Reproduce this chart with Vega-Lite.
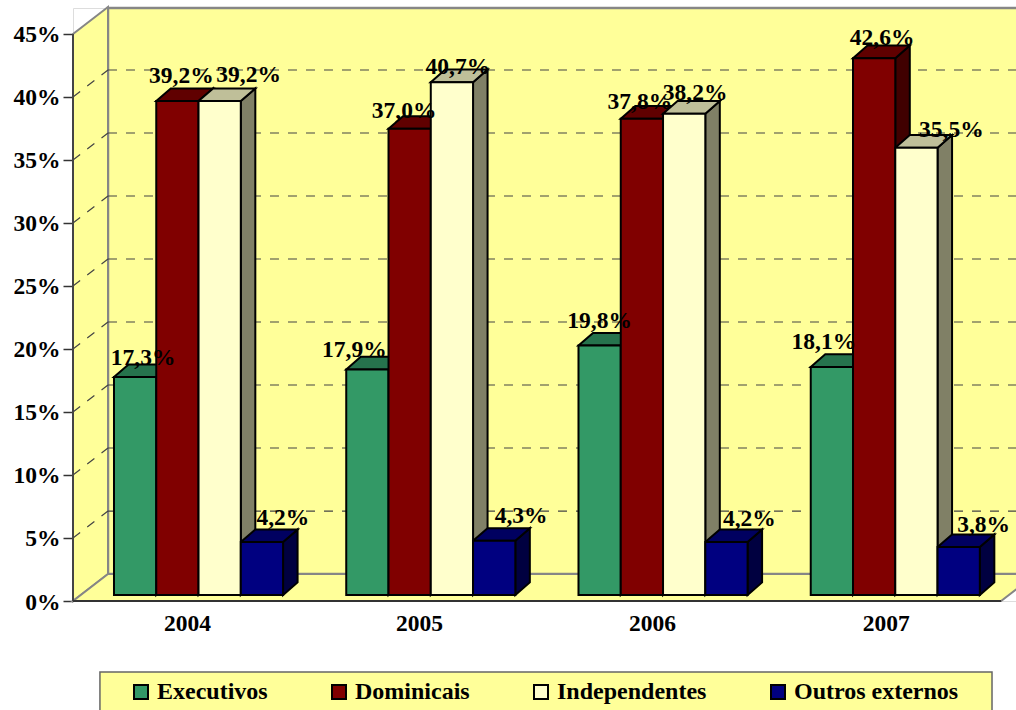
{
"$schema":"https://vega.github.io/schema/vega-lite/v6.json",
"width":943,"height":593,
"autosize":{"type":"none"},
"padding":{"left":73,"top":8,"right":0,"bottom":109},
"background":"white",
"datasets":{
"bars":[
{"year":"2004","series":"Executivos","value":17.3},{"year":"2004","series":"Dominicais","value":39.2},{"year":"2004","series":"Independentes","value":39.2},{"year":"2004","series":"Outros externos","value":4.2},
{"year":"2005","series":"Executivos","value":17.9},{"year":"2005","series":"Dominicais","value":37.0},{"year":"2005","series":"Independentes","value":40.7},{"year":"2005","series":"Outros externos","value":4.3},
{"year":"2006","series":"Executivos","value":19.8},{"year":"2006","series":"Dominicais","value":37.8},{"year":"2006","series":"Independentes","value":38.2},{"year":"2006","series":"Outros externos","value":4.2},
{"year":"2007","series":"Executivos","value":18.1},{"year":"2007","series":"Dominicais","value":42.6},{"year":"2007","series":"Independentes","value":35.5},{"year":"2007","series":"Outros externos","value":3.8}],
"depths":[{"d":0},{"d":1}],
"wall":[{"wall":"back"}],
"ticks":[{"tick":5},{"tick":10},{"tick":15},{"tick":20},{"tick":25},{"tick":30},{"tick":35},{"tick":40}]
},
"layer":[
{"data":{"name":"wall"},
 "mark":{"type":"rect","fill":"#FFFF99","stroke":"#868686","strokeWidth":2.5},
 "encoding":{
  "x":{"datum":0.1507,"type":"quantitative","scale":{"domain":[0,4.0603],"nice":false,"zero":false},
   "axis":{"title":null,"values":[0.491,1.49,2.493,3.5],"labelExpr":"['2004','2005','2006','2007'][floor(datum.value)]","ticks":false,"domain":false,"grid":false,"labelFont":"Liberation Serif","labelFontWeight":"bold","labelFontSize":23.5,"labelColor":"black","labelPadding":10,"labelOverlap":false,"labelFlush":false}},
  "x2":{"datum":4.147},
  "y":{"datum":2.14,"type":"quantitative","scale":{"domain":[0,47.06],"nice":false,"zero":false},
   "axis":{"title":null,"values":[0,5,10,15,20,25,30,35,40,45],"labelExpr":"datum.value+'%'","ticks":true,"tickSize":10,"tickColor":"#333333","tickWidth":1.5,"domain":false,"grid":false,"labelFont":"Liberation Serif","labelFontWeight":"bold","labelFontSize":23.5,"labelColor":"black","labelPadding":3,"labelOffset":1,"labelOverlap":false,"labelFlush":false}},
  "y2":{"datum":47.06}}},
{"data":{"name":"depths"},"transform":[{"calculate":"0.1507*datum.d","as":"wx"},{"calculate":"2.14*datum.d","as":"wy0"},{"calculate":"45+2.14*datum.d","as":"wy1"}],
 "mark":{"type":"area","fill":"#FFFF99","stroke":"#868686","strokeWidth":2,"orient":"vertical"},
 "encoding":{"x":{"field":"wx","type":"quantitative"},"y":{"field":"wy1","type":"quantitative"},"y2":{"field":"wy0"}}},
{"data":{"name":"depths"},"transform":[{"calculate":"0.1507*datum.d","as":"wx0"},{"calculate":"3.996+0.1507*datum.d","as":"wx1"},{"calculate":"2.14*datum.d","as":"wy"}],
 "mark":{"type":"area","fill":"#FFFF99","stroke":"#868686","strokeWidth":2,"orient":"horizontal"},
 "encoding":{"y":{"field":"wy","type":"quantitative"},"x":{"field":"wx0","type":"quantitative"},"x2":{"field":"wx1"}}},
{"data":{"name":"ticks"},"transform":[{"calculate":"datum.tick+2.14","as":"back"}],
 "mark":{"type":"rule","color":"#444444","strokeWidth":1.2,"strokeDash":[9,9]},
 "encoding":{"x":{"datum":0,"type":"quantitative"},"x2":{"datum":0.1507},"y":{"field":"tick","type":"quantitative"},"y2":{"field":"back"}}},
{"data":{"name":"ticks"},"transform":[{"calculate":"datum.tick+2.14","as":"back"}],
 "mark":{"type":"rule","color":"#444444","strokeWidth":1.2,"strokeDash":[9,9]},
 "encoding":{"x":{"datum":0.1507,"type":"quantitative"},"x2":{"datum":4.147},"y":{"field":"back","type":"quantitative"}}},
{"data":{"name":"wall"},"mark":{"type":"rule","color":"#444444","strokeWidth":2},
 "encoding":{"x":{"datum":0,"type":"quantitative"},"y":{"datum":0,"type":"quantitative"},"y2":{"datum":45}}},
{"data":{"name":"wall"},"mark":{"type":"rule","color":"#333333","strokeWidth":2},
 "encoding":{"x":{"datum":0,"type":"quantitative"},"x2":{"datum":3.996},"y":{"datum":0,"type":"quantitative"}}},
{"data":{"name":"wall"},"mark":{"type":"rect","fill":"#FFFF99","stroke":"#666666","strokeWidth":1.5,"clip":false},
 "encoding":{"x":{"datum":0.116,"type":"quantitative"},"x2":{"datum":3.957},"y":{"datum":-5.63,"type":"quantitative"},"y2":{"datum":-8.7}}},
{"data":{"name":"bars"},
 "transform":[
  {"calculate":"indexof(['2004','2005','2006','2007'],datum.year)","as":"yi"},
  {"calculate":"indexof(['Executivos','Dominicais','Independentes','Outros externos'],datum.series)","as":"si"},
  {"calculate":"datum.year+datum.series","as":"barId"},
  {"calculate":"datum.yi+0.1765+0.182*datum.si","as":"fx"},
  {"calculate":"datum.fx+0.182","as":"fx2"},
  {"calculate":"datum.value+0.476","as":"top"},
  {"calculate":"['#1D5C3C','#400000','#808066','#000040'][datum.si]","as":"sideColor"},
  {"calculate":"['#26734D','#600000','#BFBF99','#000060'][datum.si]","as":"topColor"},
  {"calculate":"[[8,4,29,21],[-13,-5.5,6,27],[0,-2,11,23],[-8,8,35,25]][datum.yi][datum.si]","as":"lo"},
  {"calculate":"[[19,25,26,24],[19.5,18,15,25],[24.5,17,21,23],[25,20,18,22]][datum.yi][datum.si]","as":"la"},
  {"calculate":"datum.fx+0.091+datum.lo/232.25","as":"lx"},
  {"calculate":"datum.top+datum.la/12.6","as":"ly"},
  {"calculate":"replace(format(datum.value,'.1f'),'.',',')+'%'","as":"label"}
 ],
 "layer":[
  {"transform":[{"calculate":"[0,1]","as":"t"},{"flatten":["t"]},{"calculate":"datum.fx2+0.0625*datum.t","as":"sx"},{"calculate":"datum.top+datum.t","as":"sy1"},{"calculate":"0.476+datum.t","as":"sy0"}],
   "mark":{"type":"area","stroke":"black","strokeWidth":2,"orient":"vertical"},
   "encoding":{"detail":{"field":"barId"},"x":{"field":"sx","type":"quantitative"},"y":{"field":"sy1","type":"quantitative"},"y2":{"field":"sy0"},"fill":{"field":"sideColor","type":"nominal","scale":null,"legend":null}}},
  {"transform":[{"calculate":"[0,1]","as":"t"},{"flatten":["t"]},{"calculate":"datum.fx+0.0625*datum.t","as":"tx0"},{"calculate":"datum.fx2+0.0625*datum.t","as":"tx1"},{"calculate":"datum.top+datum.t","as":"ty"}],
   "mark":{"type":"area","stroke":"black","strokeWidth":2,"orient":"horizontal"},
   "encoding":{"detail":{"field":"barId"},"y":{"field":"ty","type":"quantitative"},"x":{"field":"tx0","type":"quantitative"},"x2":{"field":"tx1"},"fill":{"field":"topColor","type":"nominal","scale":null,"legend":null}}},
  {"transform":[{"calculate":"0.476","as":"base"}],
   "mark":{"type":"rect","stroke":"black","strokeWidth":2},
   "encoding":{"x":{"field":"fx","type":"quantitative"},"x2":{"field":"fx2"},"y":{"field":"top","type":"quantitative"},"y2":{"field":"base"},
    "color":{"field":"series","type":"nominal","scale":{"domain":["Executivos","Dominicais","Independentes","Outros externos"],"range":["#339966","#800000","#FFFFCC","#000080"]},
     "legend":{"title":null,"orient":"none","legendX":56,"legendY":672,"direction":"horizontal","columns":4,"gridAlign":"none","padding":0,"symbolType":"square","symbolSize":196,"symbolStrokeColor":"black","symbolStrokeWidth":2,"labelFont":"Liberation Serif","labelFontWeight":"bold","labelFontSize":24,"labelColor":"black","labelOffset":4,"columnPadding":59,"labelLimit":300}}}},
  {"mark":{"type":"text","font":"Liberation Serif","fontWeight":"bold","fontSize":23.5,"color":"black","baseline":"middle","align":"center"},
   "encoding":{"x":{"field":"lx","type":"quantitative"},"y":{"field":"ly","type":"quantitative"},"text":{"field":"label"}}}
 ]}
]
}
